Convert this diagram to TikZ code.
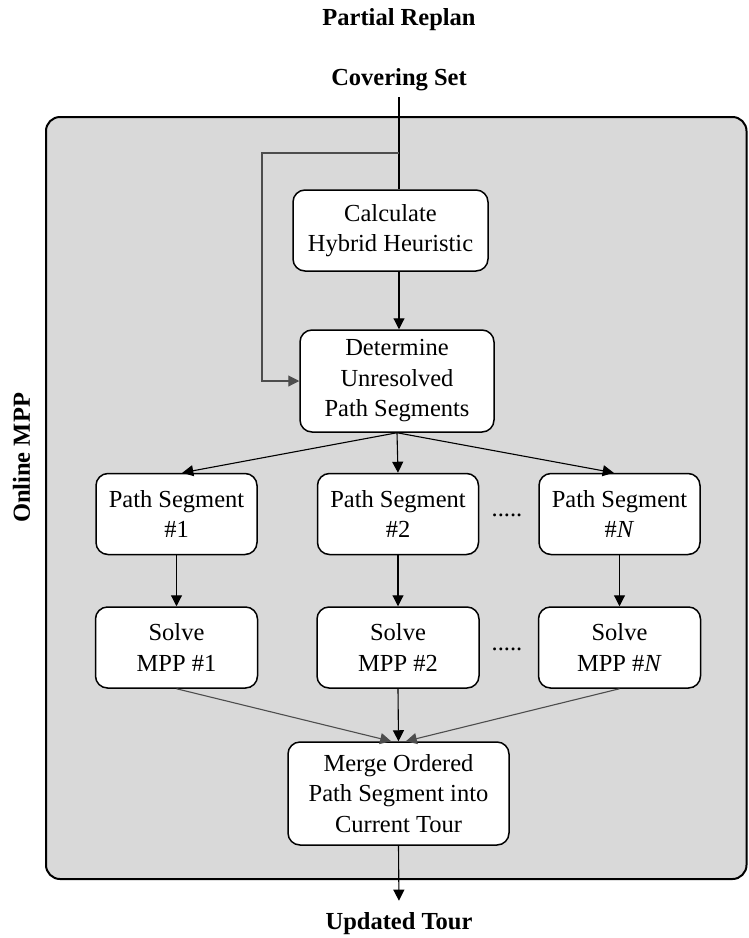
\documentclass[tikz,border=0pt]{standalone}
\usepackage{fontspec}
\setmainfont{Liberation Serif}
\usepackage{tikz}
\usetikzlibrary{shapes,arrows.meta,positioning,calc}
\definecolor{panelgray}{HTML}{D9D9D9}
\definecolor{wiregray}{HTML}{4D4D4D}

\begin{document}
\begin{tikzpicture}[x=1pt,y=-1pt,
    procbox/.style={draw, fill=white, rounded corners=12pt, line width=1.5pt,
      align=center, inner sep=0pt, font=\fontsize{24.5}{30.5}\selectfont},
    tag/.style={font=\fontsize{24.5}{29}\selectfont\bfseries, inner sep=6pt},
    wire/.style={line width=1.1pt, -{Triangle[length=11pt,width=11pt]}},
    dots/.style={font=\fontsize{24.5}{29}\selectfont, inner sep=0pt}]
  \useasboundingbox (0,0) rectangle (748,938);
  % Online MPP panel
  \draw[fill=panelgray, line width=2pt, rounded corners=14pt] (46,117) rectangle (746.5,879);
  \node[tag, rotate=90] (online) at (21.5,458) {Online MPP};
  % Inputs and output
  \node[tag] (replan) at (399,20) {Partial Replan};
  \node[tag] (cover) at (399,80) {Covering Set};
  \node[tag] (updated) at (399,924) {Updated Tour};
  % Main chain
  \node[procbox, minimum width=195pt, minimum height=81pt] (calc) at (390.5,230.5)
    {Calculate\\Hybrid Heuristic};
  \node[procbox, minimum width=194pt, minimum height=102pt] (det) at (397,381)
    {Determine\\Unresolved\\Path Segments};
  \node[procbox, minimum width=221pt, minimum height=103pt] (merge) at (398.5,793.5)
    {Merge Ordered\\Path Segment into\\Current Tour};
  % One column per path segment
  \foreach \i/\x/\lbl in {1/176.5/1, 2/398/2, n/619.5/{\textit{N}}}{
    \node[procbox, minimum width=161pt, minimum height=81pt] (ps\i) at (\x,514)
      {Path Segment\\\#\lbl};
    \node[procbox, minimum width=162pt, minimum height=81pt] (solve\i) at (\x,647.5)
      {Solve\\MPP \#\lbl};
    \draw[wire] (ps\i.south) -- (solve\i.north);
  }
  \node[dots] (psdots) at (507,515) {.....};
  \node[dots] (solvedots) at (507,649) {.....};
  % Connectors
  \coordinate (fork) at (399,153);
  \coordinate (fbcorner) at (262,153);
  \draw[line width=1.1pt] (cover.south) -- (cover.south |- calc.north);
  \draw[wire, wiregray] (fork) -- (fbcorner) |- (det.west);
  \draw[wire] (cover.south |- calc.south) -- (cover.south |- det.north);
  \draw[wire] (det.south) -- (ps1.82);
  \draw[wire] (det.south) -- (ps2.north);
  \draw[wire] (det.south) -- (psn.98);
  \draw[wire, wiregray] (solve1.south) -- (merge.98);
  \draw[wire] (solve2.south) -- (merge.north);
  \draw[wire, wiregray] (solven.south) -- (merge.82);
  \draw[wire, shorten >=6pt] (merge.south) -- (updated.north);
\end{tikzpicture}
\end{document}
